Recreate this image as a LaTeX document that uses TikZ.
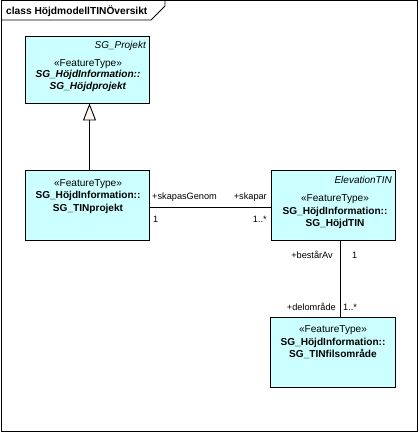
\documentclass[tikz,border=0pt]{standalone}
\usepackage{fontspec}
\setmainfont{Liberation Sans}
\usetikzlibrary{arrows.meta,calc}
\definecolor{boxfill}{RGB}{204,255,255}
\definecolor{trifill}{RGB}{252,246,238}
\begin{document}
\begin{tikzpicture}[x=1pt,y=-1pt,
  umlbox/.style={draw=black, fill=boxfill, line width=0.9pt, rectangle, inner sep=0pt},
  boxtext/.style={align=center, inner sep=0pt, font=\fontsize{10.1}{12.5}\selectfont},
  tagtext/.style={inner sep=0pt, font=\fontsize{10}{12}\selectfont\itshape},
  roletext/.style={inner sep=0pt, font=\fontsize{9.2}{11}\selectfont},
  conn/.style={draw=black, line width=0.9pt},
  gen/.style={conn, -{Triangle[open, length=17pt, width=13pt, fill=trifill]}}
]
\useasboundingbox (0,0) rectangle (420,432);
% frame
\draw[line width=0.9pt] (1.5,0.8) rectangle (417,431);
\draw[line width=0.9pt] (1.5,20) -- (151,20) -- (165,6) -- (165,0.8);
\node[anchor=west, inner sep=0pt, font=\fontsize{10.2}{12}\selectfont\bfseries] (title) at (6,11.5) {class HöjdmodellTINÖversikt};

% boxes
\node[umlbox, minimum width=124pt, minimum height=67pt] (b1) at (87,69.5) {};
\node[umlbox, minimum width=124pt, minimum height=70pt] (b2) at (87,205) {};
\node[umlbox, minimum width=124pt, minimum height=70pt] (b3) at (333,205) {};
\node[umlbox, minimum width=125pt, minimum height=70pt] (b4) at (332.5,352) {};

% box texts
\node[tagtext, anchor=east] (t1) at (146,45.5) {SG\_Projekt};
\node[boxtext, font=\fontsize{10.1}{11.5}\selectfont] (x1) at (88,75.5) {«FeatureType»\\\textbf{\textit{SG\_HöjdInformation::}}\\\textbf{\textit{SG\_Höjdprojekt}}};
\node[boxtext] (x2) at (88,196.5) {«FeatureType»\\\textbf{SG\_HöjdInformation::}\\\textbf{SG\_TINprojekt}};
\node[tagtext, anchor=east] (t3) at (392,180) {ElevationTIN};
\node[boxtext] (x3) at (335,212) {«FeatureType»\\\textbf{SG\_HöjdInformation::}\\\textbf{SG\_HöjdTIN}};
\node[boxtext] (x4) at (333,342.5) {«FeatureType»\\\textbf{SG\_HöjdInformation::}\\\textbf{SG\_TINfilsområde}};

% connectors
\draw[gen] ($(b2.north)+(2.5,0)$) -- ($(b1.south)+(2.5,0)$);
\draw[conn] ($(b2.east)+(0,2)$) -- ($(b3.west)+(0,2)$);
\draw[conn] ($(b3.south)+(7,0)$) -- ($(b4.north)+(7.5,0)$);

% role labels
\node[roletext, anchor=west] (r1) at (152,197) {+skapasGenom};
\node[roletext, anchor=east] (r2) at (267,197) {+skapar};
\node[roletext, anchor=west] (m1) at (153,219) {1};
\node[roletext, anchor=east] (m2) at (267,219) {1..*};
\node[roletext, anchor=east] (r3) at (333,255) {+bestårAv};
\node[roletext, anchor=west] (m3) at (352,255) {1};
\node[roletext, anchor=east] (r4) at (336,307) {+delområde};
\node[roletext, anchor=west] (m4) at (343,307) {1..*};
\end{tikzpicture}
\end{document}
